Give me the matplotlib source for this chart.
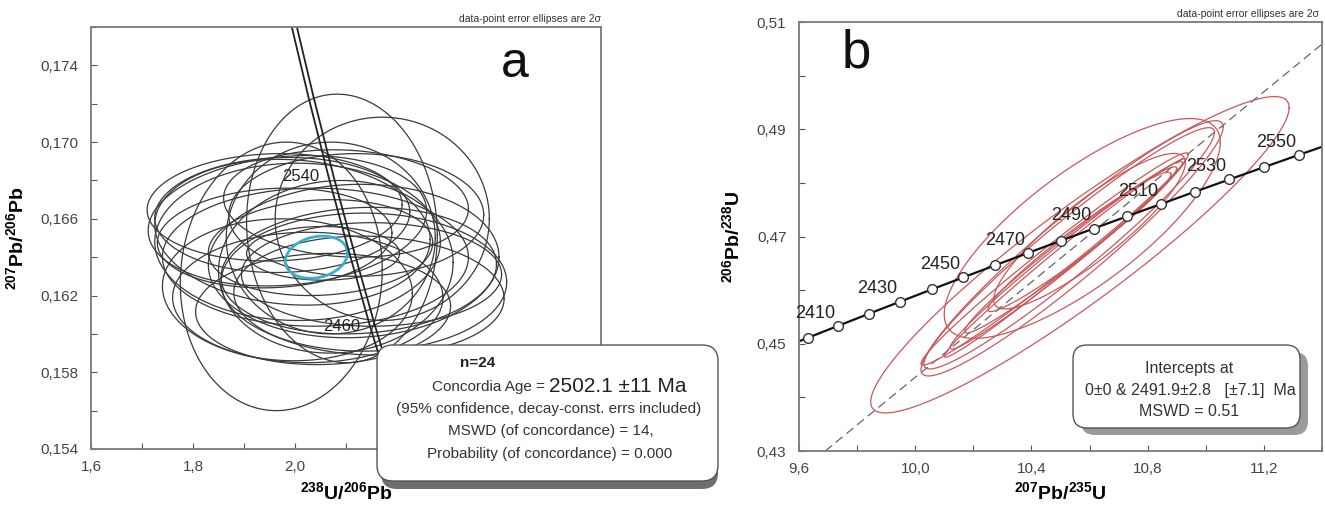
import numpy as np
import matplotlib
matplotlib.use("Agg")
import matplotlib.pyplot as plt
from matplotlib.patches import FancyBboxPatch
from matplotlib.ticker import MultipleLocator, FuncFormatter

plt.rcParams["font.family"] = ["Liberation Sans", "DejaVu Sans"]
plt.rcParams["mathtext.fontset"] = "custom"
plt.rcParams["mathtext.rm"] = "Liberation Sans"
plt.rcParams["mathtext.bf"] = "Liberation Sans:bold"

# ---- panel a: Tera-Wasserburg ----
a_xticks = [1.6, 1.8, 2.0, 2.2, 2.4, 2.6]
a_yticks = [0.154, 0.158, 0.162, 0.166, 0.170, 0.174]
# concordia band (two boundary lines) read at a few ages
tw_age = [2380, 2420, 2460, 2500, 2540, 2580, 2620]
tw_y = [0.1530, 0.1567, 0.1604, 0.1643, 0.1682, 0.1723, 0.1765]
tw_x_lo = [2.2341, 2.1899, 2.1471, 2.1057, 2.0657, 2.0268, 1.9892]
tw_x_hi = [2.2441, 2.1999, 2.1571, 2.1157, 2.0757, 2.0368, 1.9992]
tw_label_ages = [2540, 2460]

# data-point ellipses: centre x, half-width x, centre y, half-height y, rho
a_cx = [2.092, 1.973, 2.171, 1.985, 1.995, 1.975, 2.005, 1.960, 2.135, 2.125, 2.145, 2.115,
        2.150, 2.040, 2.050, 2.055, 2.025, 2.055, 1.985, 2.120, 2.100, 1.960, 2.070, 2.080]
a_sx = [0.187, 0.198, 0.210, 0.273, 0.270, 0.250, 0.280, 0.230, 0.280, 0.270, 0.265, 0.285,
        0.255, 0.300, 0.220, 0.150, 0.265, 0.250, 0.245, 0.250, 0.240, 0.250, 0.205, 0.230]
a_cy = [0.1655, 0.1630, 0.1660, 0.1659, 0.1653, 0.1662, 0.1648, 0.1650, 0.1627, 0.1633, 0.1620, 0.1638,
        0.1631, 0.1640, 0.1645, 0.1642, 0.1619, 0.1613, 0.1623, 0.1662, 0.1668, 0.1666, 0.1650, 0.1635]
a_sy = [0.0070, 0.0070, 0.0053, 0.0034, 0.0038, 0.0030, 0.0041, 0.0026, 0.0036, 0.0033, 0.0031, 0.0040,
        0.0027, 0.0036, 0.0025, 0.0014, 0.0034, 0.0029, 0.0037, 0.0032, 0.0028, 0.0028, 0.0050, 0.0045]
a_rho = [-0.05, 0.05, 0.0, 0.15, -0.1, 0.05, 0.0, 0.1, 0.0, 0.1, -0.05, 0.05,
         0.0, 0.0, 0.1, 0.0, 0.0, 0.05, -0.05, 0.0, -0.1, 0.05, 0.0, 0.05]
# concordia age ellipse
conc_ell = (2.042, 0.061, 0.1640, 0.0011, 0.2)

# ---- panel b: Wetherill concordia ----
b_xticks = [9.6, 10.0, 10.4, 10.8, 11.2]
b_yticks = [0.43, 0.45, 0.47, 0.49, 0.51]
wc_age = [2390, 2400, 2410, 2420, 2430, 2440, 2450, 2460, 2470, 2480, 2490,
          2500, 2510, 2520, 2530, 2540, 2550, 2560]
wc_x = [9.5252, 9.6294, 9.7346, 9.8408, 9.9481, 10.0565, 10.1659, 10.2764, 10.3880,
        10.5007, 10.6145, 10.7294, 10.8455, 10.9627, 11.0811, 11.2007, 11.3214, 11.4433]
wc_y = [0.44884, 0.45109, 0.45334, 0.45560, 0.45786, 0.46012, 0.46239, 0.46466, 0.46693,
        0.46921, 0.47149, 0.47377, 0.47606, 0.47835, 0.48064, 0.48294, 0.48524, 0.48755]
wc_label_ages = [2410, 2430, 2450, 2470, 2490, 2510, 2530, 2550]
# discordia: lower intercept 0 Ma, upper intercept 2491.9 Ma
lower_icpt = (0.0, 0.0)
upper_icpt = (10.6352, 0.47193)

b_cx = [10.567, 10.575, 10.540, 10.530, 10.480, 10.515, 10.520, 10.535, 10.565, 10.600]
b_sx = [0.720, 0.475, 0.520, 0.500, 0.460, 0.415, 0.400, 0.365, 0.315, 0.330]
b_cy = [0.4666, 0.4715, 0.4678, 0.4678, 0.4658, 0.4660, 0.4665, 0.4675, 0.4690, 0.4710]
b_sy = [0.0295, 0.0205, 0.0238, 0.0225, 0.0198, 0.0185, 0.0175, 0.0155, 0.0130, 0.0145]
b_rho = [0.93, 0.78, 0.95, 0.96, 0.985, 0.99, 0.985, 0.98, 0.97, 0.88]


def ellipse_xy(cx, sx, cy, sy, rho):
    t = np.linspace(0, 2 * np.pi, 200)
    x = cx + sx * np.cos(t)
    y = cy + sy * (rho * np.cos(t) + np.sqrt(1 - rho ** 2) * np.sin(t))
    return x, y


def comma_fmt(decimals):
    return FuncFormatter(lambda v, p: f"{v:.{decimals}f}".replace(".", ","))


def style_axes(ax):
    for s in ax.spines.values():
        s.set_color("#7a7a7a")
        s.set_linewidth(1.3)
    ax.tick_params(which="both", direction="in", length=4, width=0.8, color="#555555",
                   labelsize=11, labelcolor="#444444")
    ax.tick_params(axis="x", pad=8)
    ax.tick_params(axis="y", pad=9)


fig = plt.figure(figsize=(13.25, 5.05), dpi=100)

# panel a
ax1 = fig.add_axes([0.0687, 0.1109, 0.3849, 0.8356])
for cx, sx, cy, sy, r in zip(a_cx, a_sx, a_cy, a_sy, a_rho):
    ex, ey = ellipse_xy(cx, sx, cy, sy, r)
    ax1.plot(ex, ey, color="#3a3a3a", lw=0.9)
ex, ey = ellipse_xy(*conc_ell)
ax1.plot(ex, ey, color="#3aaed0", lw=2.0)
ax1.plot(tw_x_lo, tw_y, color="#222222", lw=1.3)
ax1.plot(tw_x_hi, tw_y, color="#222222", lw=1.3)
for age in tw_label_ages:
    i = tw_age.index(age)
    ax1.annotate(str(age), (tw_x_lo[i], tw_y[i]), xytext=(-7, 0), textcoords="offset points",
                 ha="right", va="center", fontsize=12, color="#222222")
ax1.set_xlim(1.6, 2.6)
ax1.set_ylim(0.154, 0.176)
ax1.set_xticks(a_xticks)
ax1.set_yticks(a_yticks)
ax1.xaxis.set_minor_locator(MultipleLocator(0.1))
ax1.yaxis.set_minor_locator(MultipleLocator(0.002))
ax1.xaxis.set_major_formatter(comma_fmt(1))
ax1.yaxis.set_major_formatter(comma_fmt(3))
style_axes(ax1)
ax1.set_xlabel(r"$^{\mathbf{238}}\mathbf{U/}^{\mathbf{206}}\mathbf{Pb}$", fontsize=14)
ax1.set_ylabel(r"$^{\mathbf{207}}\mathbf{Pb/}^{\mathbf{206}}\mathbf{Pb}$", fontsize=14)
ax1.xaxis.set_label_coords(0.5, -0.078)
ax1.yaxis.set_label_coords(-0.123, 0.5)
ax1.text(1.0, 1.008, "data-point error ellipses are 2\u03c3", transform=ax1.transAxes,
         ha="right", va="bottom", fontsize=7.5, color="#333333")
ax1.text(0.831, 0.8815, "a", transform=ax1.transAxes, ha="center", va="baseline",
         fontsize=36, color="#111111")

# panel b
ax2 = fig.add_axes([0.6030, 0.1069, 0.3947, 0.8495])
ax2.axline(lower_icpt, upper_icpt, color="#666666", lw=0.9, ls=(0, (7, 4)))
for cx, sx, cy, sy, r in zip(b_cx, b_sx, b_cy, b_sy, b_rho):
    ex, ey = ellipse_xy(cx, sx, cy, sy, r)
    ax2.plot(ex, ey, color="#c9585a", lw=0.9)
ax2.plot(wc_x, wc_y, color="#111111", lw=1.6, marker="o", ms=7, mfc="white",
         mec="#333333", mew=1.0)
for age in wc_label_ages:
    i = wc_age.index(age)
    ax2.annotate(str(age), (wc_x[i], wc_y[i]), xytext=(-2, 3), textcoords="offset points",
                 ha="right", va="bottom", fontsize=13, color="#222222")
ax2.set_xlim(9.6, 11.4)
ax2.set_ylim(0.43, 0.51)
ax2.set_xticks(b_xticks)
ax2.set_yticks(b_yticks)
ax2.xaxis.set_minor_locator(MultipleLocator(0.2))
ax2.yaxis.set_minor_locator(MultipleLocator(0.01))
ax2.xaxis.set_major_formatter(comma_fmt(1))
ax2.yaxis.set_major_formatter(comma_fmt(2))
style_axes(ax2)
ax2.set_xlabel(r"$^{\mathbf{207}}\mathbf{Pb/}^{\mathbf{235}}\mathbf{U}$", fontsize=14)
ax2.set_ylabel(r"$^{\mathbf{206}}\mathbf{Pb/}^{\mathbf{238}}\mathbf{U}$", fontsize=14)
ax2.xaxis.set_label_coords(0.5, -0.072)
ax2.yaxis.set_label_coords(-0.105, 0.5)
ax2.text(0.995, 1.008, "data-point error ellipses are 2\u03c3", transform=ax2.transAxes,
         ha="right", va="bottom", fontsize=7.5, color="#333333")
ax2.text(0.109, 0.895, "b", transform=ax2.transAxes, ha="center", va="baseline",
         fontsize=38, color="#111111")

# overlay in pixel units for the result boxes
ov = fig.add_axes([0, 0, 1, 1], zorder=10)
ov.set_xlim(0, 1325)
ov.set_ylim(505, 0)
ov.axis("off")

ov.add_patch(FancyBboxPatch((381, 351), 337, 138, boxstyle="round,pad=0,rounding_size=16",
                            fc="#6e6e6e", ec="none"))
ov.add_patch(FancyBboxPatch((377, 345), 341, 136, boxstyle="round,pad=0,rounding_size=16",
                            fc="white", ec="#555555", lw=1.0))
ov.text(460, 363, "n=24", ha="left", va="center", fontsize=11, fontweight="bold", color="#222222")
ov.text(549, 387, "Concordia Age = ", ha="right", va="center", fontsize=11, color="#333333")
ov.text(549, 386, "2502.1 \u00b111 Ma", ha="left", va="center", fontsize=15, color="#222222")
ov.text(549, 409, "(95% confidence, decay-const. errs included)", ha="center", va="center",
        fontsize=11, color="#333333")
ov.text(551, 431, "MSWD (of concordance) = 14,", ha="center", va="center",
        fontsize=11, color="#333333")
ov.text(550, 454, "Probability (of concordance) = 0.000", ha="center", va="center",
        fontsize=11, color="#333333")

ov.add_patch(FancyBboxPatch((1081, 352), 227, 83, boxstyle="round,pad=0,rounding_size=14",
                            fc="#9a9a9a", ec="none"))
ov.add_patch(FancyBboxPatch((1073, 345), 227, 83, boxstyle="round,pad=0,rounding_size=14",
                            fc="white", ec="#555555", lw=1.0))
ov.text(1189, 368, "Intercepts at", ha="center", va="center", fontsize=11.5, color="#333333")
ov.text(1190, 390, "0\u00b10 & 2491.9\u00b12.8   [\u00b17.1]  Ma", ha="center", va="center",
        fontsize=11.5, color="#333333")
ov.text(1189, 411, "MSWD = 0.51", ha="center", va="center", fontsize=11.5, color="#333333")

fig.savefig("out.png", dpi=100)
